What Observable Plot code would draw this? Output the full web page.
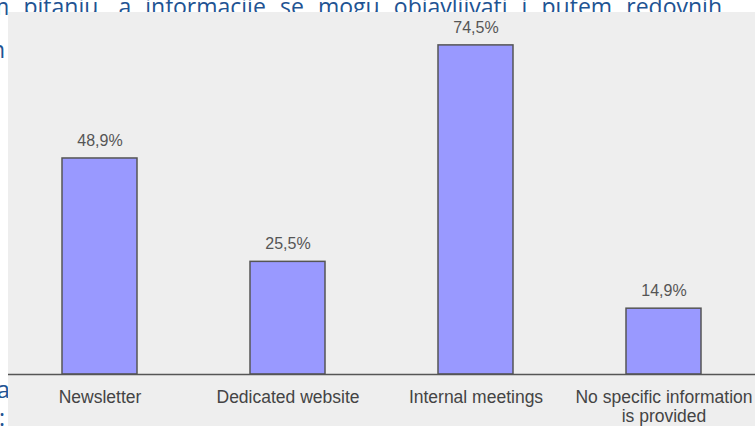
<!DOCTYPE html>
<html>
<head>
<meta charset="utf-8">
<script src="https://cdn.jsdelivr.net/npm/d3@7"></script>
<script src="https://cdn.jsdelivr.net/npm/@observablehq/plot@0.6"></script>
<style>
  html, body { margin: 0; padding: 0; background: #ffffff; }
  #page { position: relative; width: 755px; height: 426px; overflow: hidden; background: #fff; }
  .doc { position: absolute; color: #1f5493; font-family: "Open Sans", "Noto Sans", sans-serif; font-size: 23px; white-space: nowrap; line-height: 1; }
  #top { white-space: normal; width: 734px; text-align: justify; text-align-last: justify; }
  #chart { position: absolute; left: 8px; top: 12px; width: 747px; height: 414px; background: #eeeeee; }
  #chart svg { background: transparent; display: block; }
</style>
</head>
<body>
<div id="page">
  <div class="doc" id="top" style="left:-12px; top:-5px;">m pitanju, a informacije se mogu objavljivati i putem redovnih</div>
  <div class="doc" style="left:-9px; top:38px;">n</div>
  <div class="doc" style="left:-3px; top:378px;">a</div>
  <div class="doc" style="left:-1px; top:406px;">:</div>
  <div id="chart"></div>
</div>
<script>
const categories = ["Newsletter", "Dedicated website", "Internal meetings", "No specific information\nis provided"];
const values = [48.9, 25.5, 74.5, 14.9];
const valueLabels = ["48,9%", "25,5%", "74,5%", "14,9%"];

const data = categories.map((c, i) => ({category: c, value: values[i], label: valueLabels[i]}));

const chart = Plot.plot({
  width: 747,
  height: 414,
  marginLeft: 0,
  marginRight: 0,
  marginTop: 8.6,
  marginBottom: 52,
  style: {background: "transparent", fontFamily: "'Liberation Sans', Arial, sans-serif"},
  x: {domain: categories, range: [-2.5, 749.5], paddingInner: 0.6, paddingOuter: 0.3, label: null},
  y: {domain: [0, 80], axis: null},
  marks: [
    Plot.barY(data, {x: "category", y: "value", fill: "#9999ff", stroke: "#555555", strokeWidth: 1.5}),
    Plot.ruleY([0], {stroke: "#555555", strokeWidth: 1.5}),
    Plot.text(data, {x: "category", y: "value", text: "label", dy: -18, lineAnchor: "middle", fill: "#555555", fontSize: 16}),
    Plot.axisX({tickSize: 0, tickPadding: 16, fontSize: 17.5, fill: "#444444", label: null, lineHeight: 1.04})
  ]
});
document.getElementById("chart").appendChild(chart);
</script>
</body>
</html>
